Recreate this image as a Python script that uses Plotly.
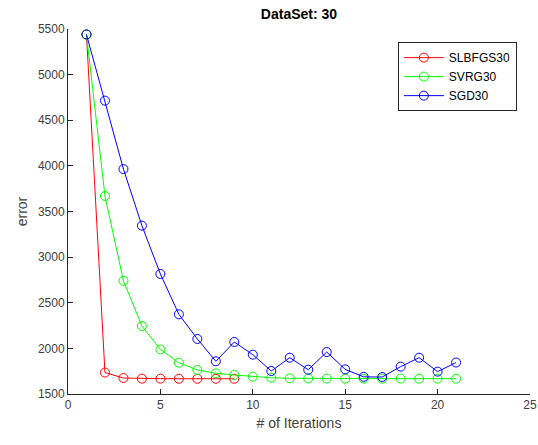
import plotly.graph_objects as go

iterations_slbfgs = [1, 2, 3, 4, 5, 6, 7, 8, 9]
error_slbfgs = [5440, 1735, 1675, 1668, 1668, 1667, 1667, 1667, 1667]

iterations_svrg = list(range(1, 22))
error_svrg = [5440, 3670, 2740, 2245, 1988, 1843, 1763, 1727, 1708, 1690,
              1678, 1672, 1670, 1669, 1668, 1668, 1668, 1668, 1668, 1668, 1668]

iterations_sgd = list(range(1, 22))
error_sgd = [5440, 4715, 3965, 3345, 2815, 2373, 2103, 1858, 2070, 1931,
             1752, 1898, 1766, 1960, 1770, 1688, 1686, 1800, 1898, 1745, 1845]

series = [
    ("SLBFGS30", iterations_slbfgs, error_slbfgs, "#ff0000"),
    ("SVRG30", iterations_svrg, error_svrg, "#00ff00"),
    ("SGD30", iterations_sgd, error_sgd, "#0000ff"),
]

x_ticks = [0, 5, 10, 15, 20, 25]
y_ticks = [1500, 2000, 2500, 3000, 3500, 4000, 4500, 5000, 5500]

fig = go.Figure()
for name, xs, ys, color in series:
    fig.add_trace(go.Scatter(
        x=xs, y=ys, name=name, mode="lines+markers",
        line=dict(color=color, width=1),
        marker=dict(symbol="circle-open", size=9, color=color,
                    line=dict(width=1, color=color)),
    ))

font = "Liberation Sans, Arial, sans-serif"
axis_common = dict(
    showgrid=False, zeroline=False, showline=True, linecolor="#262626",
    linewidth=1, ticks="inside", ticklen=5, tickcolor="#262626",
    tickfont=dict(family=font, size=12, color="#404040"),
    mirror=False, automargin=False,
)

fig.update_layout(
    width=538, height=445,
    margin=dict(l=68, r=8, t=29, b=51),
    paper_bgcolor="white", plot_bgcolor="white",
    title=dict(text="<b>DataSet: 30</b>", x=0.5, xanchor="center",
               xref="paper", y=0.968, yanchor="middle",
               font=dict(family=font, size=14, color="#000000")),
    xaxis=dict(range=[0, 25], tickvals=x_ticks,
               title=dict(text="# of Iterations", standoff=6,
                          font=dict(family=font, size=14, color="#404040")),
               **axis_common),
    yaxis=dict(range=[1500, 5500], tickvals=y_ticks,
               title=dict(text="error", standoff=6,
                          font=dict(family=font, size=14, color="#404040")),
               **axis_common),
    legend=dict(x=0.714, y=0.964, xanchor="left", yanchor="top",
                bgcolor="white", bordercolor="#262626", borderwidth=1,
                font=dict(family=font, size=12, color="#000000"),
                tracegroupgap=0, itemwidth=40),
    showlegend=True,
)

fig.write_html("out.html")
